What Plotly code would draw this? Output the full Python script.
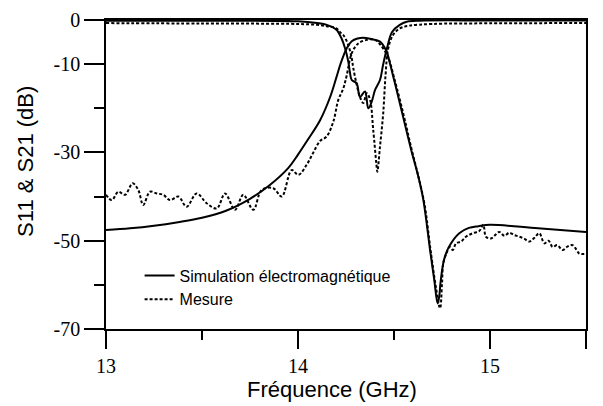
import plotly.graph_objects as go

# Simulated S11 (solid)
sim_s11_f = [13.0, 13.5, 14.0, 14.1, 14.15, 14.2, 14.227, 14.245, 14.262, 14.27, 14.28, 14.305,
             14.323, 14.349, 14.366, 14.384, 14.401, 14.427, 14.443, 14.464, 14.49, 14.53,
             14.566, 14.635, 15.0, 15.5]
sim_s11_db = [-0.15, -0.15, -0.3, -0.7, -1.1, -2.2, -4.2, -6.4, -9.4, -11.7, -13.6, -14.3,
              -17.4, -16.2, -20.0, -18.5, -15.9, -13.6, -10.2, -6.3, -2.7, -1.1,
              -0.4, -0.15, -0.1, -0.1]

# Simulated S21 (solid)
sim_s21_f = [13.0, 13.125, 13.25, 13.375, 13.5, 13.625, 13.75, 13.85, 13.95, 14.0, 14.05, 14.115,
             14.167, 14.2, 14.225, 14.254, 14.28, 14.31, 14.34, 14.38, 14.427, 14.46, 14.48,
             14.5, 14.52, 14.55, 14.59, 14.627, 14.653, 14.6875, 14.71, 14.727, 14.736,
             14.742, 14.76, 14.786, 14.84, 14.89, 14.94, 15.0, 15.25, 15.5]
sim_s21_db = [-47.6, -47.2, -46.6, -45.8, -44.8, -43.2, -40.5, -37.5, -33.5, -30.5, -27.2, -22.7,
              -17.5, -13.0, -9.5, -6.4, -4.8, -4.2, -4.0, -4.3, -4.9, -7.0, -10.0,
              -13.5, -17.0, -22.4, -29.5, -35.5, -40.8, -52.0, -59.0, -64.2, -62.5,
              -59.6, -54.4, -51.4, -48.3, -47.1, -46.7, -46.4, -47.2, -48.0]

# Measured S11 (dashed)
mes_s11_f = [13.0, 13.5, 14.0, 14.1, 14.15, 14.2, 14.22, 14.236, 14.262, 14.28, 14.288, 14.306,
             14.323, 14.34, 14.358, 14.375, 14.392, 14.408, 14.413, 14.427, 14.444, 14.456,
             14.47, 14.495, 14.53, 14.58, 14.7, 15.0, 15.5]
mes_s11_db = [-0.7, -0.8, -0.9, -1.1, -1.4, -1.9, -2.8, -3.4, -5.7, -8.7, -10.9, -14.7,
              -17.5, -18.8, -16.6, -18.0, -25.0, -32.5, -34.4, -28.7, -21.0, -12.5,
              -6.4, -3.4, -1.9, -1.3, -0.9, -0.75, -0.7]

# Measured S21 (dashed)
mes_s21_f = [13.0, 13.03, 13.064, 13.099, 13.139, 13.168, 13.194, 13.229, 13.264, 13.298, 13.333,
             13.377, 13.42, 13.472, 13.524, 13.577, 13.62, 13.672, 13.715, 13.767, 13.811,
             13.871, 13.915, 13.967, 14.002, 14.045, 14.08, 14.115, 14.149, 14.184, 14.21,
             14.236, 14.254, 14.28, 14.314, 14.358, 14.401, 14.436, 14.47, 14.5, 14.55,
             14.59, 14.63, 14.66, 14.69, 14.72, 14.74, 14.75, 14.757, 14.773, 14.79,
             14.806, 14.823, 14.849, 14.875, 14.91, 14.944, 14.965, 14.979, 15.005, 15.03,
             15.048, 15.075, 15.1, 15.125, 15.153, 15.18, 15.205, 15.23, 15.257, 15.283,
             15.305, 15.326, 15.35, 15.378, 15.405, 15.43, 15.45, 15.465, 15.5]
mes_s21_db = [-39.6, -40.8, -38.9, -39.6, -37.0, -38.5, -41.9, -38.9, -39.3, -39.6, -40.8,
              -40.0, -42.3, -39.3, -41.5, -42.7, -39.3, -43.0, -39.6, -43.0, -38.5,
              -38.1, -40.0, -34.0, -35.1, -32.8, -30.0, -27.4, -26.4, -23.0, -18.1,
              -15.5, -12.5, -7.5, -5.3, -4.5, -4.5, -6.0, -8.5, -13.0, -21.5,
              -29.0, -36.0, -42.0, -52.0, -61.0, -65.3, -59.7, -55.0, -52.9, -51.4,
              -52.1, -50.6, -50.2, -49.1, -48.3, -47.8, -46.4, -49.1, -49.5, -48.6,
              -48.0, -48.9, -48.2, -48.7, -49.1, -49.6, -50.2, -49.4, -48.3, -50.6,
              -50.0, -51.4, -51.0, -52.1, -51.3, -51.0, -52.0, -52.9, -53.0]

x_tickvals = [13, 14, 15, 15.5]
x_ticktext = ["13", "14", "15", "15.5"]
x_minor = [13.5, 14.5]
y_tickvals = [0, -10, -30, -50, -70]
y_ticktext = ["0", "-10", "-30", "-50", "-70"]
y_minor = [-20, -40, -60]

legend_sim = "Simulation électromagnétique"
legend_mes = "Mesure"

fig = go.Figure()
solid = dict(color="black", width=2)
dashed = dict(color="black", width=2, dash="3px,2px")
fig.add_trace(go.Scatter(x=sim_s11_f, y=sim_s11_db, mode="lines", line=solid,
                         line_shape="spline", name=legend_sim, legendgroup="sim"))
fig.add_trace(go.Scatter(x=sim_s21_f, y=sim_s21_db, mode="lines", line=solid,
                         line_shape="spline", name=legend_sim, legendgroup="sim", showlegend=False))
fig.add_trace(go.Scatter(x=mes_s11_f, y=mes_s11_db, mode="lines", line=dashed,
                         line_shape="spline", name=legend_mes, legendgroup="mes"))
fig.add_trace(go.Scatter(x=mes_s21_f, y=mes_s21_db, mode="lines", line=dashed,
                         line_shape="spline", name=legend_mes, legendgroup="mes", showlegend=False))

serif = dict(family="Liberation Serif, Times New Roman, serif", size=20, color="black")
fig.update_layout(
    width=595, height=398,
    margin=dict(l=98, r=17, t=12, b=77),
    paper_bgcolor="white", plot_bgcolor="white",
    font=dict(family="Liberation Sans", color="black"),
    showlegend=True,
    legend=dict(x=0.07, y=0.228, xanchor="left", yanchor="top",
                font=dict(family="Liberation Sans", size=16, color="black"),
                bgcolor="rgba(0,0,0,0)", tracegroupgap=0),
    xaxis=dict(range=[13, 15.5], showgrid=False, zeroline=False, automargin=False,
               showline=True, linecolor="black", linewidth=1.5, mirror=True,
               tickmode="array", tickvals=x_tickvals, ticktext=x_ticktext,
               ticks="outside", ticklen=18, tickwidth=1.5, tickcolor="black",
               tickfont=serif,
               minor=dict(tickvals=x_minor, ticks="outside", ticklen=9,
                          tickwidth=1.5, tickcolor="black", showgrid=False)),
    yaxis=dict(range=[-70, 0], showgrid=False, zeroline=False, automargin=False,
               showline=True, linecolor="black", linewidth=1.5, mirror=True,
               tickmode="array", tickvals=y_tickvals, ticktext=y_ticktext,
               ticks="outside", ticklen=20, tickwidth=1.5, tickcolor="black",
               tickfont=serif,
               minor=dict(tickvals=y_minor, ticks="outside", ticklen=10,
                          tickwidth=1.5, tickcolor="black", showgrid=False)),
    annotations=[
        dict(text="Fréquence (GHz)", xref="paper", yref="paper", x=0.470, y=-0.197,
             xanchor="center", yanchor="middle", showarrow=False,
             font=dict(family="Liberation Sans", size=22, color="black")),
        dict(text="S11 & S21 (dB)", xref="paper", yref="paper", x=-0.1667, y=0.544,
             xanchor="center", yanchor="middle", showarrow=False, textangle=-90,
             font=dict(family="Liberation Sans", size=22, color="black")),
    ],
)

fig.write_html("out.html")
